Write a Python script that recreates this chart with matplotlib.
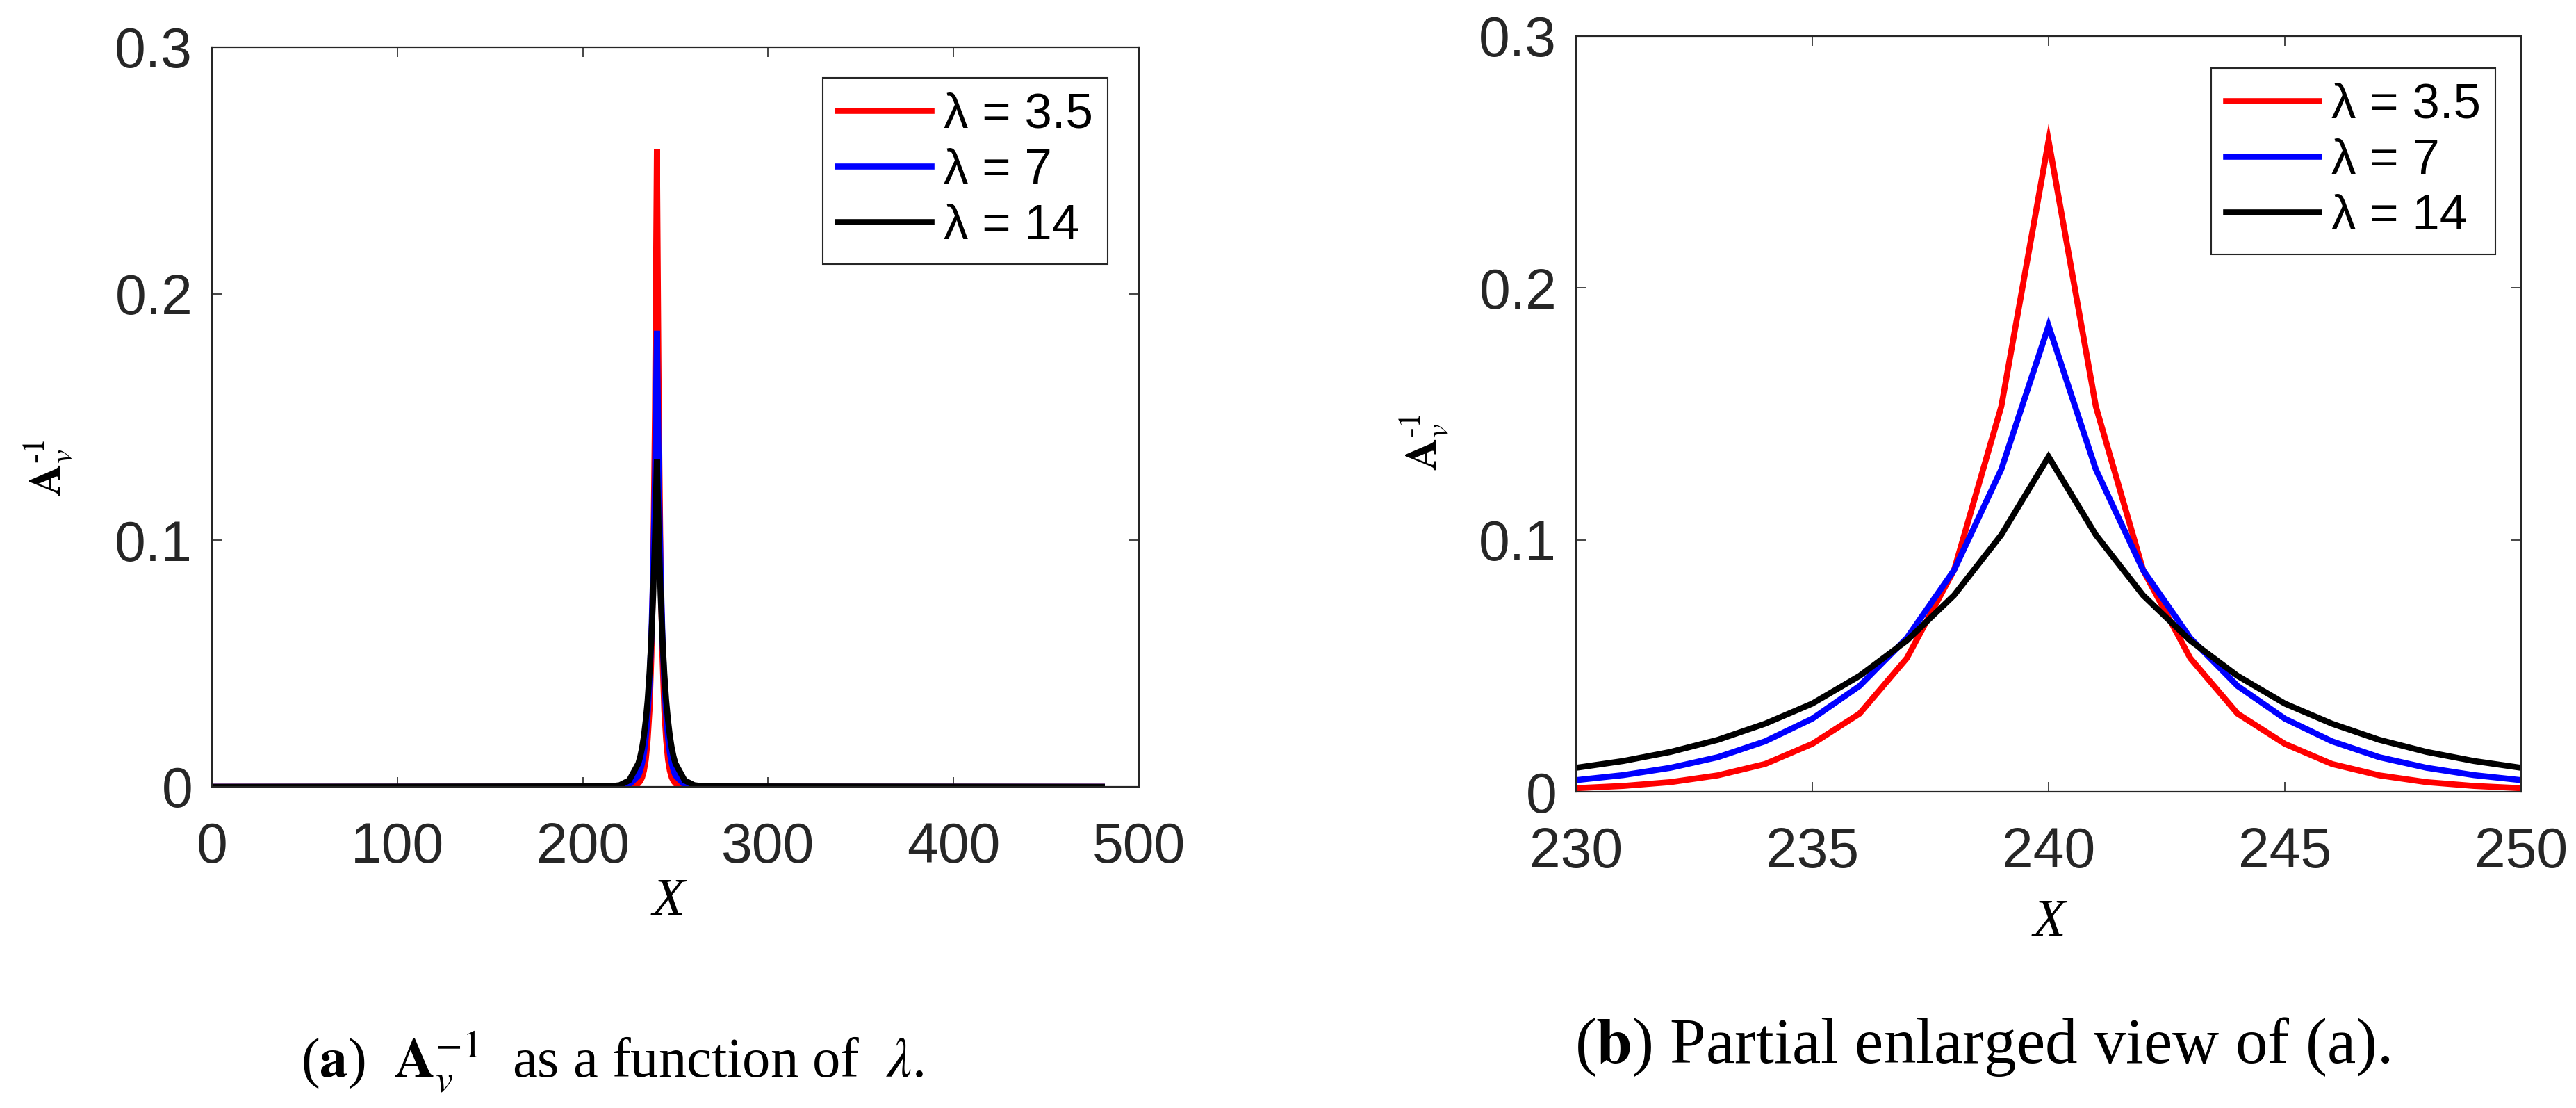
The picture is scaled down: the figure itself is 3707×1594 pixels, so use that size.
import numpy as np
import matplotlib
matplotlib.use("Agg")
import matplotlib.pyplot as plt

plt.rcParams['mathtext.fontset'] = 'stix'
plt.rcParams['font.family'] = ['Liberation Sans', 'DejaVu Sans']

# ---------------- data ----------------
labels = ["λ = 3.5", "λ = 7", "λ = 14"]
colors = ["#ff0000", "#0000ff", "#000000"]

# enlarged view: X = 230 ... 250
x_zoom = list(range(230, 251))
red_zoom = [0.0014, 0.0023, 0.0038, 0.0065, 0.011, 0.019, 0.031, 0.053, 0.088, 0.153,
            0.2585,
            0.153, 0.088, 0.053, 0.031, 0.019, 0.011, 0.0065, 0.0038, 0.0023, 0.0014]
blue_zoom = [0.0046, 0.0066, 0.0095, 0.0137, 0.020, 0.029, 0.042, 0.061, 0.088, 0.128,
             0.185,
             0.128, 0.088, 0.061, 0.042, 0.029, 0.020, 0.0137, 0.0095, 0.0066, 0.0046]
black_zoom = [0.0095, 0.0122, 0.0158, 0.0206, 0.027, 0.035, 0.046, 0.060, 0.078, 0.102,
              0.133,
              0.102, 0.078, 0.060, 0.046, 0.035, 0.027, 0.0206, 0.0158, 0.0122, 0.0095]

# full view tails (outside the enlarged window the curves sit on zero)
x_left_tail = [0, 215, 220, 225]
x_right_tail = [255, 260, 265, 480]
red_left_tail = [0.0, 0.0, 0.0, 0.0001]
blue_left_tail = [0.0, 0.0, 0.0001, 0.0008]
black_left_tail = [0.0, 0.0002, 0.0007, 0.0026]
red_right_tail = [0.0001, 0.0, 0.0, 0.0]
blue_right_tail = [0.0008, 0.0001, 0.0, 0.0]
black_right_tail = [0.0026, 0.0007, 0.0002, 0.0]

series_zoom = [red_zoom, blue_zoom, black_zoom]
left_tails = [red_left_tail, blue_left_tail, black_left_tail]
right_tails = [red_right_tail, blue_right_tail, black_right_tail]

yticks = [0, 0.1, 0.2, 0.3]
ytick_labels = ["0", "0.1", "0.2", "0.3"]
xticks_a = [0, 100, 200, 300, 400, 500]
xticks_b = [230, 235, 240, 245, 250]

# ---------------- figure ----------------
W, H = 3707, 1594
fig = plt.figure(figsize=(W / 100, H / 100), dpi=100)

def px_axes(l, t, r, b):
    return fig.add_axes([l / W, 1 - b / H, (r - l) / W, (b - t) / H])

ax_a = px_axes(305, 68, 1639, 1132)
ax_b = px_axes(2268, 52, 3628, 1139)

tick_color = "#262626"

def style(ax, xlim, xticks):
    ax.set_xlim(*xlim)
    ax.set_ylim(0, 0.3)
    ax.set_xticks(xticks)
    ax.set_xticklabels([str(t) for t in xticks])
    ax.set_yticks(yticks)
    ax.set_yticklabels(ytick_labels)
    for s in ax.spines.values():
        s.set_color(tick_color)
        s.set_linewidth(1.6)
    ax.tick_params(axis='both', direction='in', length=10, width=1.2,
                   colors=tick_color, labelsize=58, top=True, right=True)
    ax.tick_params(axis='x', pad=36)
    ax.tick_params(axis='y', pad=20)

x_full = x_left_tail + x_zoom + x_right_tail
for ys, lt, rt, c, lab in zip(series_zoom, left_tails, right_tails, colors, labels):
    ax_a.plot(x_full, lt + ys + rt, color=c, lw=6.2, label=lab, solid_joinstyle='miter')
    ax_b.plot(x_zoom, ys, color=c, lw=6.2, label=lab, solid_joinstyle='miter')

style(ax_a, (0, 500), xticks_a)
style(ax_b, (230, 250), xticks_b)

for ax, anchor in [(ax_a, (0.966, 0.959)), (ax_b, (0.973, 0.958))]:
    leg = ax.legend(loc='upper right', bbox_to_anchor=anchor, borderaxespad=0,
                    fontsize=51, handlelength=1.9, handletextpad=0.25,
                    labelspacing=0.2, borderpad=0.3, fancybox=False,
                    framealpha=1, edgecolor=tick_color)
    leg.get_frame().set_linewidth(1.5)

# y labels
ylab = r"$\mathbf{A}_{v}^{\text{-1}}$"
fig.text(70 / W, 1 - 673 / H, ylab, rotation=90, ha='center', va='center',
         fontsize=46, color='black')
fig.text(2050 / W, 1 - 636 / H, ylab, rotation=90, ha='center', va='center',
         fontsize=46, color='black')

# x labels
fig.text(962 / W, 1 - 1297 / H, "X", ha='center', va='center', fontsize=55,
         family='Liberation Serif', style='italic')
fig.text(2949 / W, 1 - 1327 / H, "X", ha='center', va='center', fontsize=55,
         family='Liberation Serif', style='italic')

# captions
fig.text(881 / W, 1 - 1550 / H,
         r"($\mathbf{a}$)  $\mathbf{A}_{v}^{-1}$  as a function of  $\lambda$.",
         ha='center', va='baseline', fontsize=58, family='Liberation Serif')
fig.text(2853 / W, 1 - 1529 / H,
         r"($\mathbf{b}$) Partial enlarged view of (a).",
         ha='center', va='baseline', fontsize=67, family='Liberation Serif')

fig.savefig("out.png", dpi=100, facecolor='white')
